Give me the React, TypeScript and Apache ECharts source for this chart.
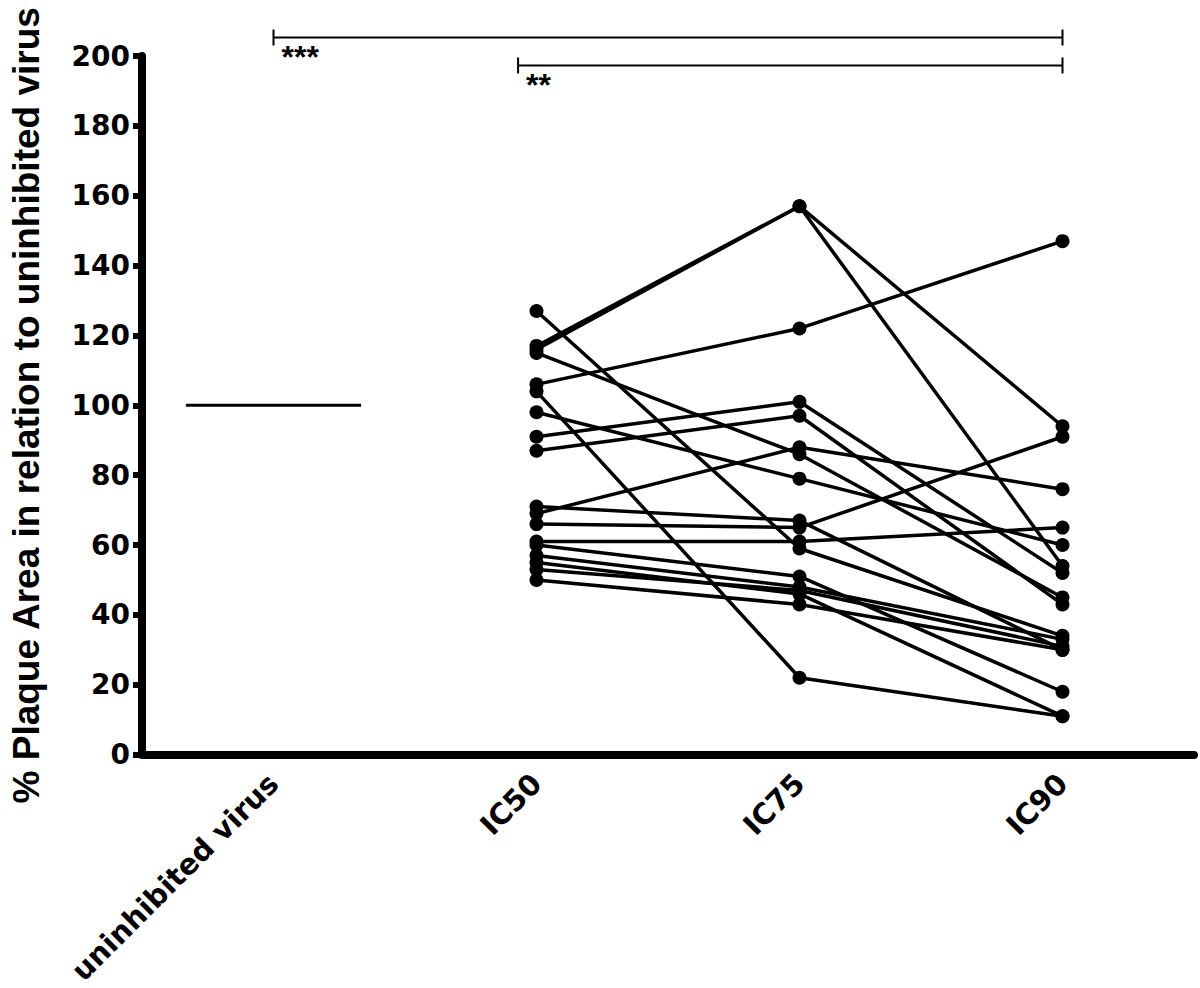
import React, { useEffect, useRef } from "react";
import * as echarts from "echarts";

const categories = ["uninhibited virus", "IC50", "IC75", "IC90"];

// One entry per subject (paired values)
const ic50 = [117, 116, 127, 115, 106, 104, 98, 91, 87, 71, 69, 66, 61, 60, 57, 55, 53, 50];
const ic75 = [157, 157, 59, 86, 122, 22, 79, 101, 97, 67, 88, 65, 61, 51, 48, 46, 47, 43];
const ic90 = [94, 54, 34, 45, 147, 11, 60, 52, 43, 30, 76, 91, 65, 18, 33, 11, 31, 30];

const uninhibitedMean = 100;
const meanHalfWidth = 0.333; // in category units

const yTicks = [0, 20, 40, 60, 80, 100, 120, 140, 160, 180, 200];

// significance bars
const sigFrom = [0.5, 1.43];
const sigTo = [3.5, 3.5];
const sigLevel = [205.3, 197.3];
const sigText = ["***", "**"];

export default function App() {
  const ref = useRef<HTMLDivElement>(null);
  useEffect(() => {
    if (!ref.current) return;
    const chart = echarts.init(ref.current, null, { renderer: "svg" });
    const subjectSeries = ic50.map((v, i) => ({
      type: "line",
      xAxisIndex: 1,
      data: [
        [1.5, v],
        [2.5, ic75[i]],
        [3.5, ic90[i]],
      ],
      symbol: "circle",
      symbolSize: 14,
      itemStyle: { color: "#000" },
      lineStyle: { color: "#000", width: 3.5 },
      z: 3,
    }));
    chart.setOption({
      animation: false,
      backgroundColor: "#fff",
      grid: { left: 136, right: 6, top: 56, bottom: 229, containLabel: false },
      xAxis: [
        {
          type: "category",
          data: categories,
          boundaryGap: true,
          axisLine: { lineStyle: { color: "#000", width: 8 } },
          axisTick: { alignWithLabel: true, length: 11, lineStyle: { color: "#000", width: 8 } },
          axisLabel: {
            rotate: 45,
            interval: 0,
            margin: 24,
            color: "#000",
            fontFamily: "DejaVu Sans",
            fontWeight: "bold",
            fontSize: 29,
          },
        },
        { type: "value", min: 0, max: 4, show: false },
      ],
      yAxis: {
        type: "value",
        min: yTicks[0],
        max: yTicks[yTicks.length - 1],
        interval: 20,
        name: "% Plaque Area in relation to uninhibited virus",
        nameLocation: "middle",
        nameGap: 97,
        nameTextStyle: {
          color: "#000",
          fontFamily: "Liberation Sans",
          fontWeight: "bold",
          fontSize: 37,
        },
        axisLine: { show: true, lineStyle: { color: "#000", width: 8 } },
        axisTick: { show: true, length: 9, lineStyle: { color: "#000", width: 6 } },
        axisLabel: {
          margin: 12,
          color: "#000",
          fontFamily: "DejaVu Sans",
          fontWeight: "bold",
          fontSize: 28,
        },
        splitLine: { show: false },
      },
      series: [
        {
          type: "line",
          xAxisIndex: 1,
          data: [
            [0.5 - meanHalfWidth, uninhibitedMean],
            [0.5 + meanHalfWidth, uninhibitedMean],
          ],
          symbol: "none",
          lineStyle: { color: "#000", width: 3 },
        },
        ...subjectSeries,
      ],
    });

    const px = (v: number) => chart.convertToPixel({ xAxisIndex: 1 } as any, v) as number;
    const py = (v: number) => chart.convertToPixel({ yAxisIndex: 0 } as any, v) as number;
    const graphics: any[] = [];
    sigText.forEach((t, i) => {
      const x1 = px(sigFrom[i]);
      const x2 = px(sigTo[i]);
      const y = py(sigLevel[i]);
      graphics.push({
        type: "line",
        shape: { x1, y1: y, x2, y2: y },
        style: { stroke: "#000", lineWidth: 2 },
      });
      graphics.push({
        type: "line",
        shape: { x1, y1: y - 8, x2: x1, y2: y + 8 },
        style: { stroke: "#000", lineWidth: 2 },
      });
      graphics.push({
        type: "line",
        shape: { x1: x2, y1: y - 8, x2, y2: y + 8 },
        style: { stroke: "#000", lineWidth: 2 },
      });
      graphics.push({
        type: "text",
        x: x1 + 8,
        y: y + 4,
        style: {
          text: t,
          fill: "#000",
          font: "bold 32px 'Liberation Sans'",
          textVerticalAlign: "top",
        },
      });
    });
    chart.setOption({ graphic: graphics });

    return () => chart.dispose();
  }, []);
  return (
    <div
      ref={ref}
      style={{ position: "absolute", left: 0, top: 0, width: 1200, height: 988 }}
    />
  );
}
